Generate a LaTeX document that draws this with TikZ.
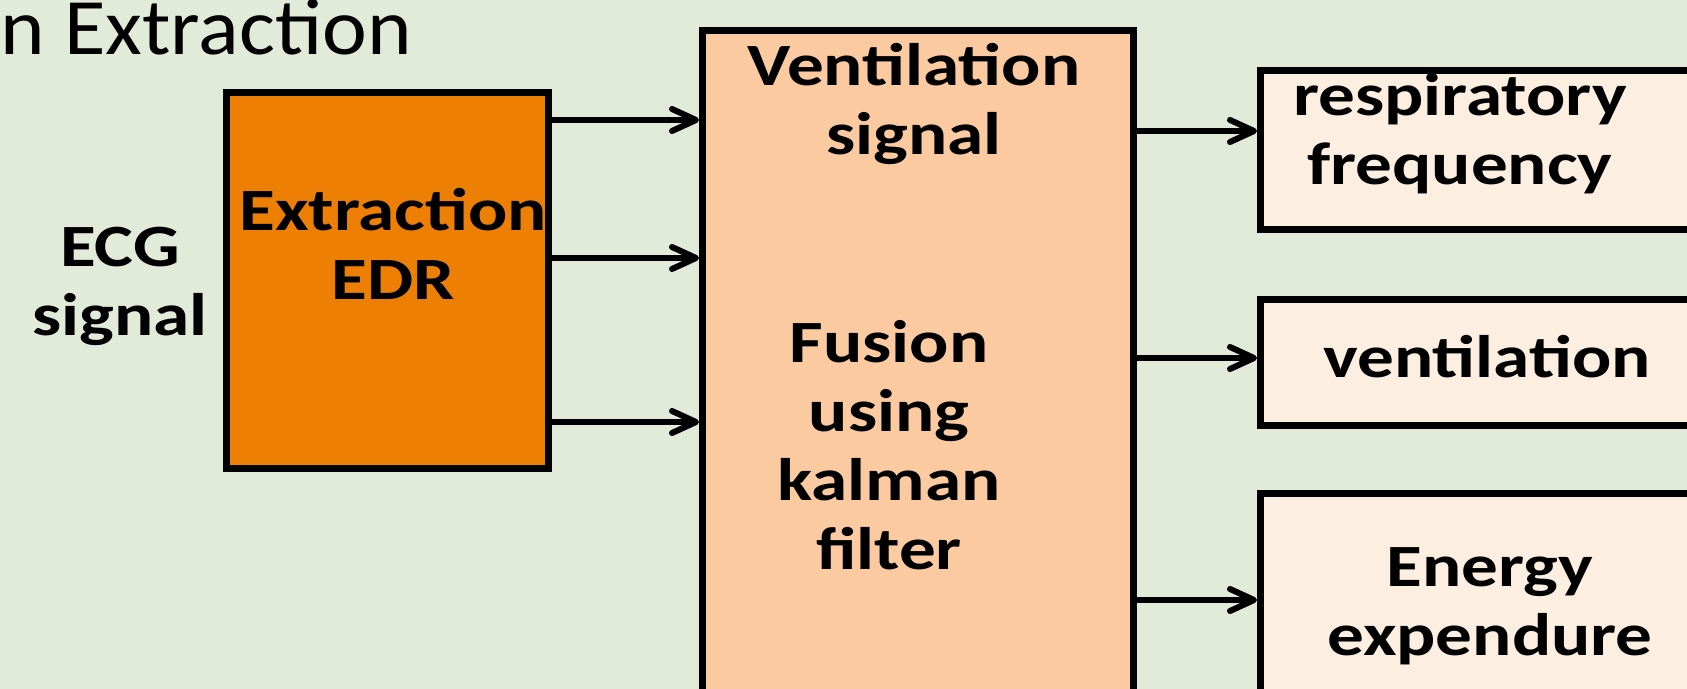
\documentclass[tikz,border=0pt]{standalone}
\usepackage{fontspec}
\setmainfont{Carlito}
\newfontfamily\titlefont{Carlito}[FakeStretch=1.06]
\newfontfamily\boxfont{Carlito}[FakeStretch=1.22]
\usetikzlibrary{arrows.meta,positioning}
\definecolor{bgsage}{HTML}{E2EAD9}
\definecolor{edrorange}{HTML}{EC7F04}
\definecolor{fusionpeach}{HTML}{FBCAA0}
\definecolor{outcream}{HTML}{FDEEE2}

\begin{document}
\begin{tikzpicture}[x=0.5pt,y=-0.5pt,
  blk/.style={draw,line width=3.4pt,inner sep=0pt,anchor=north west},
  txt/.style={font=\fontsize{30}{34.5}\boxfont\bfseries,align=center,inner sep=0pt},
  arr/.style={-{Straight Barb[round,length=12pt,width=11pt,line width=3pt]},line width=3pt}]
\fill[bgsage] (0,0) rectangle (1687,689);
\useasboundingbox (0,0) rectangle (1687,689);
\clip (0,0) rectangle (1687,689);

% title, cut at the left edge
\node[font=\fontsize{40}{46}\titlefont,anchor=base west,inner sep=0pt] (title) at (0,55) {n Extraction};

% blocks
\node[blk,fill=edrorange,minimum width=161pt,minimum height=188pt] (edr) at (223,89) {};
\node[blk,fill=fusionpeach,minimum width=215.5pt,minimum height=346.5pt] (fus) at (699,27) {};
\node[blk,fill=outcream,minimum width=250pt,minimum height=79.5pt] (resp) at (1257,67) {};
\node[blk,fill=outcream,minimum width=250pt,minimum height=63pt] (vent) at (1257,296) {};
\node[blk,fill=outcream,minimum width=250pt,minimum height=115pt] (energy) at (1257,490) {};

% texts
\node[txt] (ecg) at (120,286) {ECG\\signal};
\node[txt] (edrtxt) at (393,244) {Extraction\\EDR};
\node[txt] (ventsig) at (914,104) {Ventilation\\signal};
\node[txt] (kalman) at (889,445) {Fusion\\using\\kalman\\filter};
\node[txt] (resptxt) at (1460,134) {respiratory\\frequency};
\node[txt] (venttxt) at (1487,357) {ventilation};
\node[txt] (energytxt) at (1490,606) {Energy\\expendure};

% connectors
\draw[arr] (edr.east |- 0,120) -- (fus.west |- 0,120);
\draw[arr] (edr.east |- 0,258) -- (fus.west |- 0,258);
\draw[arr] (edr.east |- 0,422) -- (fus.west |- 0,422);
\draw[arr] (fus.east |- 0,131) -- (resp.west |- 0,131);
\draw[arr] (fus.east |- 0,358) -- (vent.west |- 0,358);
\draw[arr] (fus.east |- 0,600) -- (energy.west |- 0,600);
\end{tikzpicture}
\end{document}
